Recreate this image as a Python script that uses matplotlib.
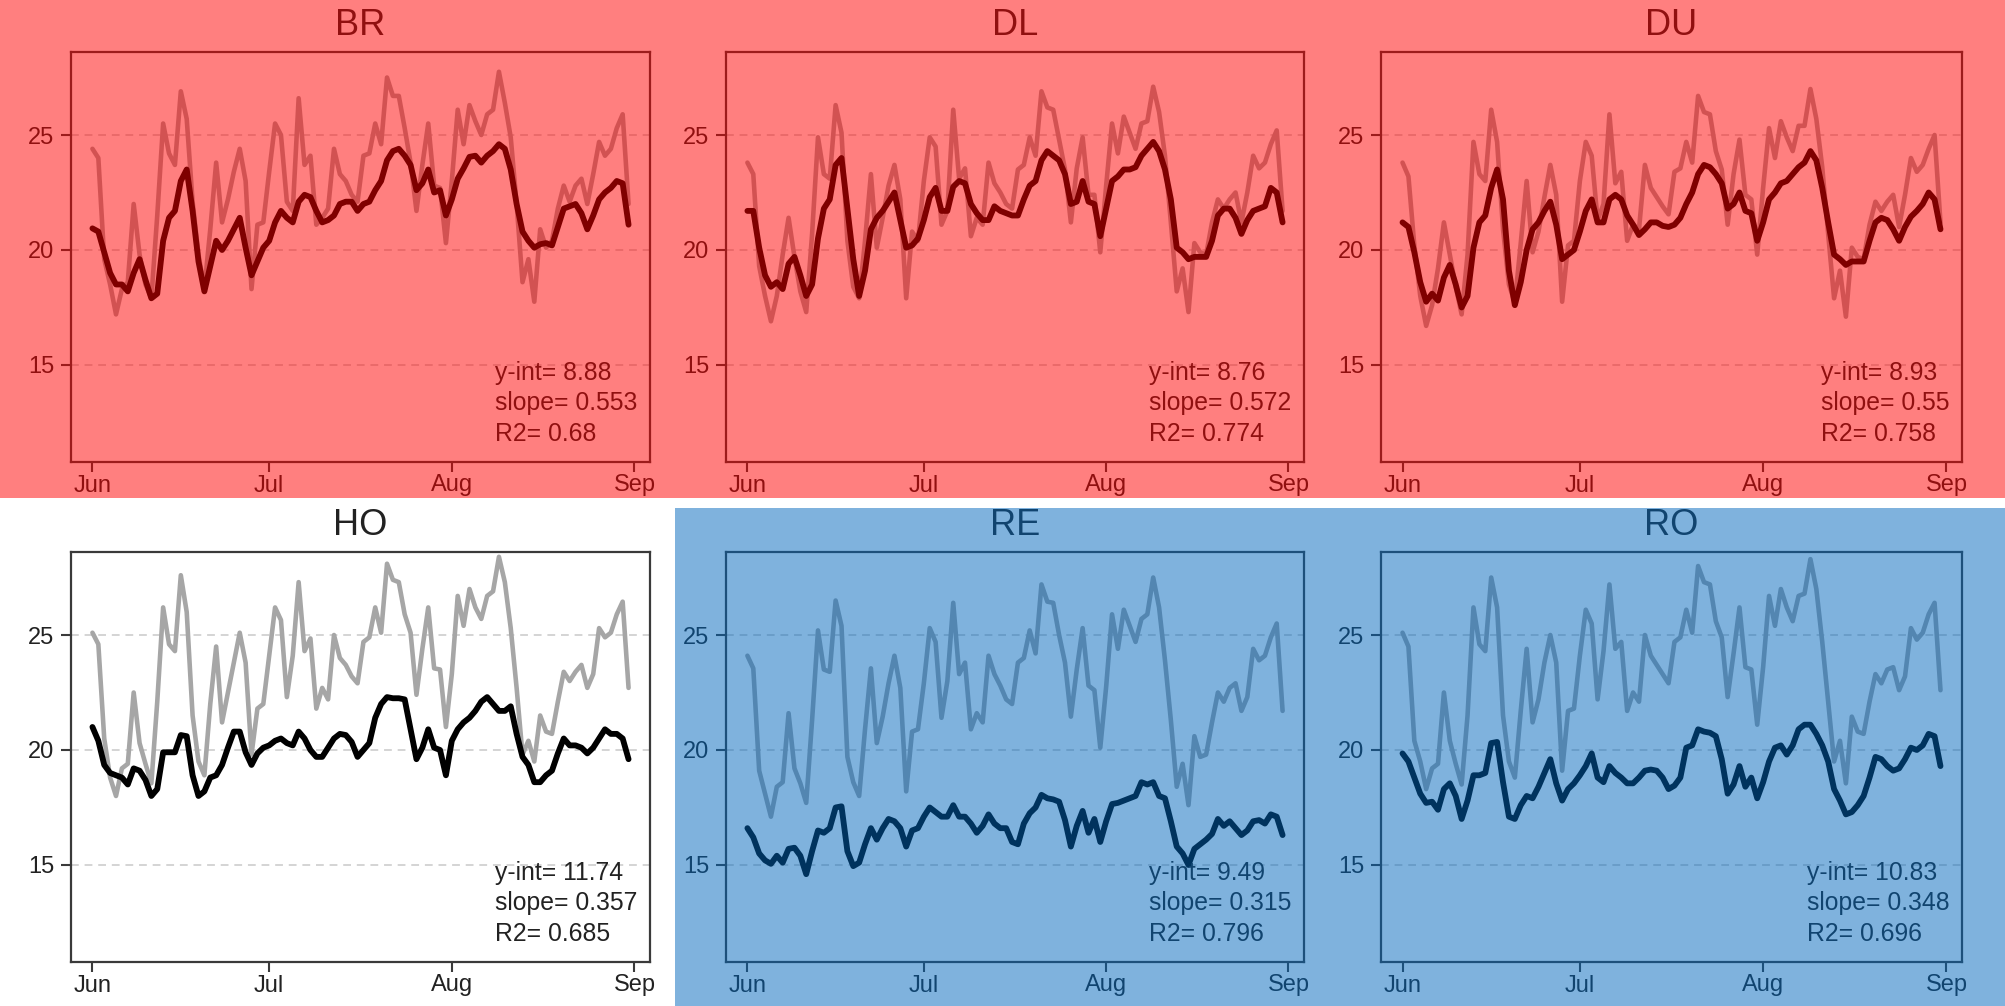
import matplotlib
matplotlib.use("Agg")
import matplotlib.pyplot as plt
import matplotlib.dates as mdates
import pandas as pd
from matplotlib.patches import Rectangle

plt.rcParams['font.family'] = ['Liberation Sans', 'DejaVu Sans']

# ---------------- data ----------------
dates = pd.date_range("2016-06-01", "2016-08-31", freq="D")
month_ticks = ["2016-06-01", "2016-07-01", "2016-08-01", "2016-09-01"]
month_labels = ["Jun", "Jul", "Aug", "Sep"]
y_ticks = [15, 20, 25]

sites = ["BR", "DL", "DU", "HO", "RE", "RO"]
y_int = [8.88, 8.76, 8.93, 11.74, 9.49, 10.83]
slope = [0.553, 0.572, 0.55, 0.357, 0.315, 0.348]
r2 = [0.68, 0.774, 0.758, 0.685, 0.796, 0.696]

air_BR = [24.4, 24.0, 19.6, 18.5, 17.2, 18.3, 18.6, 22.0, 19.8, 18.5, 17.9, 21.5, 25.5, 24.2, 23.7, 26.9, 25.7, 22.1, 19.8, 18.3,
          20.9, 23.8, 21.2, 22.2, 23.4, 24.4, 23.0, 18.3, 21.1, 21.2, 23.4, 25.5, 25.0, 22.1, 21.7, 26.6, 23.7, 24.1, 21.1, 21.4,
          21.8, 24.4, 23.3, 23.0, 22.4, 22.1, 24.1, 24.2, 25.5, 24.6, 27.5, 26.7, 26.7, 25.3, 23.8, 21.7, 23.7, 25.5, 22.8, 22.7,
          20.3, 23.0, 26.1, 24.6, 26.3, 25.6, 25.0, 25.9, 26.1, 27.75, 26.4, 24.9, 22.0, 18.6, 19.6, 17.75, 20.9, 20.1, 20.4, 21.8,
          22.8, 22.1, 22.8, 23.1, 22.0, 23.3, 24.7, 24.1, 24.4, 25.3, 25.9, 22.0]
water_BR = [20.94, 20.8, 19.9, 19.0, 18.5, 18.5, 18.2, 19.0, 19.6, 18.7, 17.9, 18.1, 20.4, 21.4, 21.7, 23.0, 23.5, 21.7, 19.5, 18.2,
            19.3, 20.4, 20.0, 20.4, 20.9, 21.4, 20.1, 18.9, 19.5, 20.1, 20.4, 21.2, 21.7, 21.4, 21.2, 22.1, 22.4, 22.3, 21.7, 21.2,
            21.3, 21.5, 22.0, 22.1, 22.1, 21.7, 22.0, 22.1, 22.6, 23.0, 23.9, 24.3, 24.4, 24.1, 23.7, 22.6, 22.9, 23.5, 22.5, 22.6,
            21.5, 22.2, 23.1, 23.55, 24.05, 24.1, 23.8, 24.1, 24.3, 24.6, 24.4, 23.5, 22.0, 20.8, 20.4, 20.1, 20.25, 20.3, 20.2, 21.0,
            21.8, 21.9, 22.0, 21.6, 20.9, 21.5, 22.2, 22.5, 22.7, 23.0, 22.9, 21.1]

air_DL = [23.8, 23.3, 19.3, 18.0, 16.9, 18.0, 19.8, 21.4, 19.7, 18.2, 17.3, 20.7, 24.9, 23.3, 23.1, 26.3, 25.1, 20.4, 18.4, 17.9,
          20.4, 23.3, 20.1, 21.4, 22.8, 23.7, 22.2, 17.9, 20.8, 20.4, 23.0, 24.9, 24.5, 21.1, 21.7, 26.1, 23.1, 23.55, 20.6, 21.4,
          21.1, 23.8, 22.9, 22.5, 22.0, 21.8, 23.5, 23.7, 24.9, 24.1, 26.9, 26.2, 26.1, 24.8, 23.5, 21.2, 23.55, 24.9, 22.4, 22.4,
          19.9, 22.8, 25.5, 24.2, 25.8, 25.1, 24.4, 25.5, 25.6, 27.1, 26.0, 24.1, 21.2, 18.2, 19.2, 17.3, 20.3, 19.9, 19.8, 21.2,
          22.2, 21.8, 22.2, 22.5, 21.2, 22.5, 24.1, 23.55, 23.8, 24.6, 25.2, 21.7]
water_DL = [21.7, 21.7, 20.1, 18.9, 18.4, 18.6, 18.3, 19.4, 19.7, 18.9, 18.0, 18.5, 20.5, 21.8, 22.2, 23.7, 24.0, 21.8, 19.6, 18.0,
            19.1, 20.9, 21.4, 21.7, 22.1, 22.5, 21.3, 20.1, 20.2, 20.5, 21.3, 22.3, 22.7, 21.7, 21.7, 22.75, 23.0, 22.9, 22.0, 21.6,
            21.3, 21.3, 21.9, 21.7, 21.6, 21.5, 21.5, 22.2, 22.8, 23.0, 23.9, 24.3, 24.1, 23.9, 23.3, 22.0, 22.1, 23.0, 22.1, 22.0,
            20.6, 21.8, 23.0, 23.2, 23.5, 23.5, 23.6, 24.1, 24.4, 24.7, 24.3, 23.5, 22.2, 20.1, 19.9, 19.6, 19.7, 19.7, 19.7, 20.4,
            21.5, 21.8, 21.8, 21.4, 20.7, 21.3, 21.7, 21.8, 21.9, 22.7, 22.5, 21.2]

air_DU = [23.8, 23.2, 20.2, 18.0, 16.7, 17.6, 19.2, 21.2, 19.8, 18.4, 17.2, 19.8, 24.7, 23.3, 23.0, 26.1, 24.7, 20.9, 18.5, 17.7,
          20.3, 23.0, 19.9, 20.8, 22.3, 23.7, 22.4, 17.75, 20.2, 20.4, 23.0, 24.7, 24.1, 21.3, 22.0, 25.9, 22.9, 23.4, 20.4, 21.1,
          20.9, 23.7, 22.7, 22.3, 21.9, 21.55, 23.4, 23.55, 24.7, 23.8, 26.7, 26.0, 25.9, 24.3, 23.5, 21.1, 23.3, 24.8, 22.4, 22.2,
          19.8, 22.7, 25.3, 24.0, 25.6, 24.9, 24.3, 25.4, 25.4, 27.0, 25.7, 23.6, 20.7, 17.9, 19.1, 17.1, 20.1, 19.7, 19.6, 21.1,
          22.1, 21.7, 22.1, 22.4, 21.0, 22.4, 24.0, 23.4, 23.7, 24.4, 25.0, 21.2]
water_DU = [21.2, 21.0, 19.9, 18.6, 17.75, 18.1, 17.8, 18.8, 19.35, 18.5, 17.5, 18.0, 20.1, 21.2, 21.5, 22.7, 23.5, 22.2, 19.1, 17.6,
            18.6, 20.0, 20.9, 21.2, 21.7, 22.1, 21.1, 19.6, 19.8, 20.0, 20.8, 21.7, 22.2, 21.2, 21.2, 22.2, 22.4, 22.2, 21.5, 21.1,
            20.65, 20.9, 21.2, 21.2, 21.05, 21.0, 21.1, 21.4, 22.0, 22.5, 23.3, 23.7, 23.6, 23.3, 22.9, 21.8, 22.0, 22.5, 21.7, 21.6,
            20.4, 21.2, 22.2, 22.5, 22.9, 23.0, 23.3, 23.6, 23.8, 24.3, 23.9, 22.7, 21.2, 19.8, 19.6, 19.35, 19.5, 19.5, 19.5, 20.4,
            21.2, 21.4, 21.3, 20.9, 20.4, 21.0, 21.45, 21.7, 22.0, 22.5, 22.2, 20.9]

air_HO = [25.1, 24.6, 20.5, 18.8, 18.0, 19.2, 19.4, 22.5, 20.3, 19.4, 18.55, 22.1, 26.2, 24.6, 24.3, 27.6, 26.0, 21.5, 19.5, 18.9,
          22.0, 24.5, 21.2, 22.5, 23.8, 25.1, 23.8, 19.8, 21.8, 22.0, 24.1, 26.2, 25.65, 22.3, 24.1, 27.3, 24.3, 24.85, 21.8, 22.7,
          22.2, 25.0, 24.0, 23.7, 23.2, 22.9, 24.7, 24.9, 26.2, 25.1, 28.1, 27.4, 27.3, 25.9, 25.1, 22.4, 24.4, 26.2, 23.55, 23.5,
          21.0, 23.3, 26.7, 25.4, 27.0, 26.2, 25.7, 26.7, 26.9, 28.4, 27.3, 25.3, 22.7, 19.8, 20.4, 19.5, 21.5, 20.8, 20.7, 22.1,
          23.4, 23.0, 23.4, 23.7, 22.7, 23.3, 25.3, 24.9, 25.1, 25.9, 26.45, 22.7]
water_HO = [21.0, 20.4, 19.35, 19.0, 18.9, 18.8, 18.5, 19.2, 19.1, 18.7, 18.0, 18.3, 19.9, 19.9, 19.9, 20.65, 20.6, 18.9, 18.0, 18.2,
            18.8, 18.9, 19.35, 20.1, 20.8, 20.8, 19.9, 19.35, 19.85, 20.1, 20.2, 20.4, 20.5, 20.3, 20.2, 20.8, 20.5, 20.0, 19.7, 19.7,
            20.1, 20.5, 20.7, 20.65, 20.35, 19.7, 20.0, 20.3, 21.4, 22.0, 22.3, 22.25, 22.25, 22.2, 20.9, 19.6, 20.1, 20.9, 20.1, 20.0,
            18.9, 20.4, 20.9, 21.2, 21.4, 21.7, 22.1, 22.3, 22.0, 21.7, 21.7, 21.9, 20.7, 19.7, 19.35, 18.6, 18.6, 18.9, 19.1, 19.85,
            20.5, 20.2, 20.2, 20.1, 19.85, 20.1, 20.5, 20.9, 20.7, 20.7, 20.5, 19.6]

air_RE = [24.1, 23.55, 19.1, 18.1, 17.1, 18.4, 18.6, 21.6, 19.2, 18.55, 17.7, 21.3, 25.2, 23.5, 23.4, 26.5, 25.4, 19.7, 18.6, 18.0,
          20.9, 23.55, 20.3, 21.45, 22.9, 24.1, 22.7, 18.2, 20.8, 20.9, 22.9, 25.3, 24.7, 21.4, 23.0, 26.4, 23.3, 23.8, 20.9, 21.6,
          21.2, 24.1, 23.3, 22.8, 22.2, 22.0, 23.8, 24.0, 25.2, 24.2, 27.2, 26.45, 26.4, 25.0, 23.8, 21.45, 23.5, 25.3, 22.8, 22.6,
          20.1, 22.75, 25.9, 24.4, 26.1, 25.4, 24.7, 25.7, 25.9, 27.5, 26.2, 23.9, 21.3, 18.4, 19.4, 17.6, 20.6, 19.7, 19.8, 21.2,
          22.5, 22.1, 22.7, 22.9, 21.7, 22.3, 24.4, 23.9, 24.1, 24.9, 25.5, 21.7]
water_RE = [16.6, 16.2, 15.5, 15.2, 15.05, 15.4, 15.1, 15.7, 15.75, 15.4, 14.6, 15.6, 16.5, 16.4, 16.6, 17.5, 17.55, 15.6, 14.95, 15.1,
            15.9, 16.6, 16.1, 16.6, 17.0, 16.9, 16.6, 15.8, 16.5, 16.6, 17.1, 17.5, 17.3, 17.1, 17.1, 17.6, 17.1, 17.1, 16.8, 16.4,
            16.7, 17.2, 16.8, 16.6, 16.6, 16.0, 15.9, 16.8, 17.25, 17.5, 18.05, 17.9, 17.85, 17.75, 16.95, 15.8, 16.7, 17.35, 16.4, 17.0,
            16.0, 16.9, 17.65, 17.7, 17.8, 17.9, 18.0, 18.6, 18.5, 18.6, 18.0, 17.9, 16.9, 15.8, 15.5, 15.0, 15.7, 15.9, 16.1, 16.35,
            17.0, 16.7, 16.9, 16.6, 16.3, 16.5, 16.9, 16.95, 16.8, 17.2, 17.1, 16.3]

air_RO = [25.1, 24.5, 20.4, 19.5, 18.3, 19.2, 19.4, 22.5, 20.4, 19.4, 18.5, 21.5, 26.2, 24.6, 24.3, 27.5, 26.2, 21.5, 19.5, 18.8,
          21.7, 24.4, 21.2, 22.2, 23.8, 25.0, 23.8, 19.1, 21.7, 21.8, 24.1, 26.1, 25.5, 22.2, 24.3, 27.2, 24.4, 24.7, 21.7, 22.5,
          22.1, 25.0, 24.1, 23.7, 23.3, 22.9, 24.7, 24.9, 26.1, 25.1, 28.0, 27.3, 27.2, 25.6, 24.9, 22.3, 24.2, 26.2, 23.6, 23.5,
          21.1, 23.6, 26.7, 25.4, 27.0, 26.2, 25.6, 26.7, 26.8, 28.3, 27.0, 24.7, 22.1, 19.5, 20.4, 18.55, 21.45, 20.8, 20.7, 22.1,
          23.3, 22.9, 23.5, 23.6, 22.6, 23.2, 25.3, 24.8, 25.1, 25.9, 26.4, 22.6]
water_RO = [19.85, 19.5, 18.8, 18.1, 17.7, 17.75, 17.4, 18.3, 18.55, 18.0, 17.0, 17.8, 18.9, 18.9, 19.0, 20.3, 20.35, 18.6, 17.1, 17.0,
            17.6, 18.0, 17.9, 18.4, 19.0, 19.6, 18.55, 17.8, 18.3, 18.55, 18.9, 19.3, 19.85, 18.8, 18.6, 19.3, 19.0, 18.8, 18.55, 18.55,
            18.8, 19.1, 19.15, 19.1, 18.8, 18.3, 18.45, 18.8, 20.1, 20.2, 20.9, 20.8, 20.75, 20.6, 19.6, 18.1, 18.5, 19.3, 18.4, 18.8,
            17.9, 18.6, 19.5, 20.1, 20.2, 19.8, 20.2, 20.9, 21.1, 21.1, 20.7, 20.2, 19.5, 18.3, 17.8, 17.2, 17.3, 17.6, 18.0, 18.8,
            19.7, 19.6, 19.3, 19.1, 19.2, 19.6, 20.1, 20.0, 20.2, 20.7, 20.6, 19.3]

air_series = [air_BR, air_DL, air_DU, air_HO, air_RE, air_RO]
water_series = [water_BR, water_DL, water_DU, water_HO, water_RE, water_RO]

# ---------------- layout ----------------
W, H = 2006, 1006
fig = plt.figure(figsize=(W / 100, H / 100), dpi=100)

col_px = [(71, 579), (726, 578), (1381, 581)]   # left, width in pixels
row_px = [(52, 410), (552, 410)]                # top, height in pixels

GREY = "#a6a6a6"
AX_COL = "#3a3a3a"
TXT_COL = "#222222"

x = mdates.date2num(dates)
x0, x1 = x[0], x[-1]
pad = 0.04 * (x1 - x0)

for i, site in enumerate(sites):
    r, c = divmod(i, 3)
    left, width = col_px[c]
    top, height = row_px[r]
    ax = fig.add_axes([left / W, 1 - (top + height) / H, width / W, height / H])

    for yv in y_ticks:
        ax.axhline(yv, color="#d4d4d4", lw=1.4, ls=(0, (4, 3)), zorder=1)
    ax.plot(x, air_series[i], color=GREY, lw=3.3, zorder=2,
            solid_joinstyle="round", solid_capstyle="round")
    ax.plot(x, water_series[i], color="black", lw=4.2, zorder=3,
            solid_joinstyle="round", solid_capstyle="round")

    ax.set_xlim(x0 - pad, x1 + pad)
    ax.set_ylim(10.78, 28.61)
    ax.set_xticks(mdates.date2num(pd.to_datetime(month_ticks)))
    ax.set_xticklabels(month_labels)
    ax.set_yticks(y_ticks)
    ax.set_yticklabels([str(v) for v in y_ticks])
    ax.tick_params(axis="both", direction="out", length=7, width=1.5, color=AX_COL,
                   labelsize=17, labelcolor=TXT_COL)
    ax.tick_params(axis="x", pad=2)
    ax.tick_params(axis="y", pad=5)
    for sp in ax.spines.values():
        sp.set_color(AX_COL)
        sp.set_linewidth(1.6)
    ax.set_facecolor("white")
    ax.set_title(site, fontsize=26, color=TXT_COL, pad=12)

    ax.text(0.978, 0.143, f"y-int= {y_int[i]}\nslope= {slope[i]}\nR2= {r2[i]}",
            transform=ax.transAxes, ha="right", va="center", multialignment="left",
            fontsize=17.8, color=TXT_COL, linespacing=1.34)

# translucent group overlays
fig.add_artist(Rectangle((0, 1 - 498 / H), 1, 498 / H, transform=fig.transFigure,
                         facecolor="#ff0000", alpha=0.5, edgecolor="none", zorder=10))
fig.add_artist(Rectangle((675 / W, 0), 1 - 675 / W, (H - 508) / H, transform=fig.transFigure,
                         facecolor="#0167bd", alpha=0.5, edgecolor="none", zorder=10))

fig.savefig("out.png", dpi=100)
